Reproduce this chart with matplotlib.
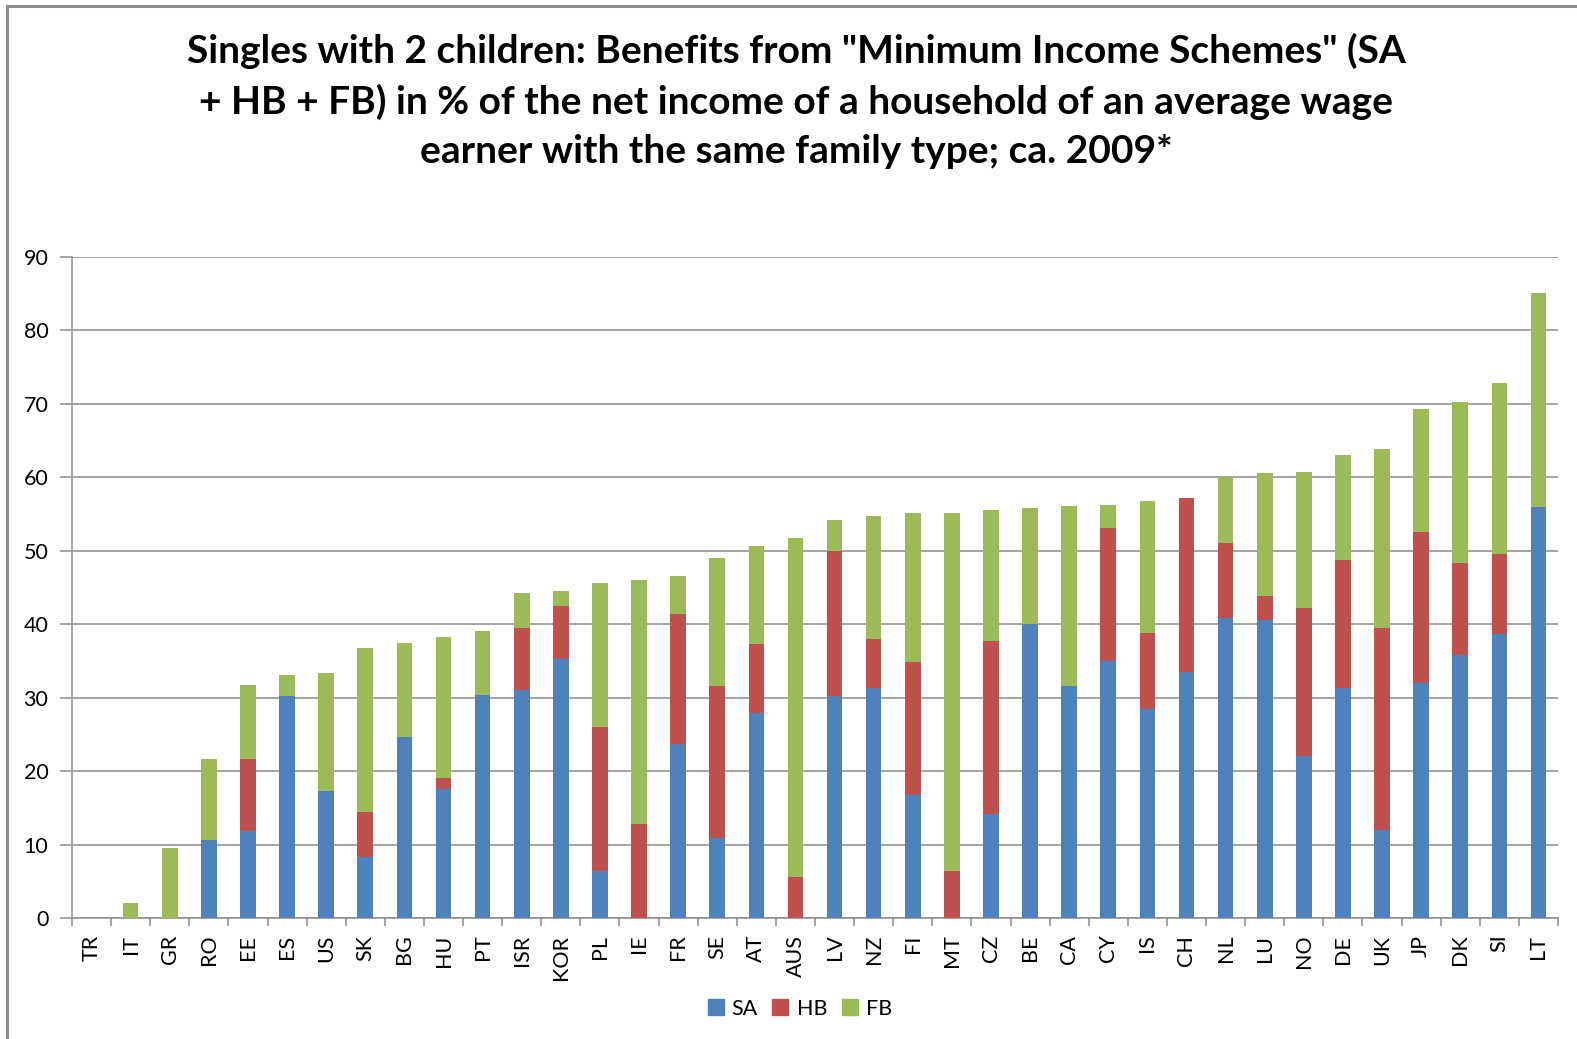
import matplotlib
matplotlib.use("Agg")
import matplotlib.pyplot as plt
from matplotlib.patches import Rectangle
from matplotlib.lines import Line2D
import numpy as np

countries = ["TR", "IT", "GR", "RO", "EE", "ES", "US", "SK", "BG", "HU", "PT", "ISR", "KOR",
             "PL", "IE", "FR", "SE", "AT", "AUS", "LV", "NZ", "FI", "MT", "CZ", "BE", "CA",
             "CY", "IS", "CH", "NL", "LU", "NO", "DE", "UK", "JP", "DK", "SI", "LT"]
sa = [0, 0, 0, 10.6, 11.9, 30.2, 17.3, 8.3, 24.7, 17.5, 30.4, 31.0, 35.2,
      6.4, 0, 23.7, 10.9, 27.9, 0, 30.2, 31.3, 16.7, 0, 14.2, 40.0, 31.6,
      35.0, 28.4, 33.5, 40.8, 40.6, 22.1, 31.3, 12.0, 32.0, 35.8, 38.7, 56.0]
hb = [0, 0, 0, 0, 9.7, 0, 0, 6.1, 0, 1.5, 0, 8.5, 7.3,
      19.6, 12.8, 17.7, 20.7, 9.4, 5.6, 19.8, 6.7, 18.1, 6.4, 23.5, 0, 0,
      18.1, 10.4, 23.7, 10.3, 3.3, 20.1, 17.5, 27.5, 20.6, 12.5, 10.8, 0]
fb = [0, 2.0, 9.5, 11.1, 10.15, 2.9, 16.1, 22.3, 12.8, 19.2, 8.7, 4.8, 2.0,
      19.6, 33.2, 5.2, 17.4, 13.4, 46.1, 4.2, 16.7, 20.4, 48.8, 17.9, 15.8, 24.5,
      3.2, 18.0, 0, 8.9, 16.7, 18.5, 14.3, 24.4, 16.7, 21.9, 23.3, 29.1]
series_names = ["SA", "HB", "FB"]
yticks = [0, 10, 20, 30, 40, 50, 60, 70, 80, 90]
title = ('Singles with 2 children: Benefits from "Minimum Income Schemes" (SA\n'
         '+ HB + FB) in % of the net income of a household of an average wage\n'
         'earner with the same family type; ca. 2009*')

colors = ["#4F81BD", "#C0504D", "#9BBB59"]
plt.rcParams['font.family'] = ['Lato', 'DejaVu Sans']

W, H = 1577, 1039
fig = plt.figure(figsize=(W / 100, H / 100), dpi=100)
fig.patch.set_facecolor("white")

left, right, top, bottom = 72, 1558, 257, 918
ax = fig.add_axes([left / W, 1 - bottom / H, (right - left) / W, (bottom - top) / H])

x = np.arange(len(countries))
sa_a = np.array(sa); hb_a = np.array(hb); fb_a = np.array(fb)
bw = 0.4
ax.bar(x, sa_a, bw, color=colors[0], label=series_names[0], zorder=3)
ax.bar(x, hb_a, bw, bottom=sa_a, color=colors[1], label=series_names[1], zorder=3)
ax.bar(x, fb_a, bw, bottom=sa_a + hb_a, color=colors[2], label=series_names[2], zorder=3)

ax.set_xlim(-0.5, len(countries) - 0.5)
ax.set_ylim(0, 90)
ax.set_yticks(yticks)
ax.set_yticklabels([str(v) for v in yticks], fontsize=15.5)
ax.yaxis.grid(True, color="#8C8C8C", linewidth=1.1, zorder=0)
ax.set_axisbelow(True)
ax.tick_params(axis="y", length=9, color="#8C8C8C", width=1.1, pad=8, labelcolor="black")

ax.set_xticks(x)
ax.set_xticklabels(countries, rotation=90, fontsize=15.5)
ax.set_xticks(np.arange(-0.5, len(countries) + 0.5, 1), minor=True)
ax.tick_params(axis="x", which="major", length=0, pad=12)
ax.tick_params(axis="x", which="minor", length=6, color="#8C8C8C", width=1.1)

for s in ["top", "right"]:
    ax.spines[s].set_visible(False)
for s in ["left", "bottom"]:
    ax.spines[s].set_color("#8C8C8C")
    ax.spines[s].set_linewidth(1.1)

fig.text(796 / W, 1 - 101 / H, title, ha="center", va="center", fontsize=28,
         fontweight="bold", linespacing=1.5)

handles = [Line2D([], [], marker="s", linestyle="none", markersize=11,
                  markerfacecolor=c, markeredgecolor=c) for c in colors]
fig.legend(handles, series_names, loc="center", bbox_to_anchor=(799 / W, 1 - 1009 / H),
           ncol=3, frameon=False, fontsize=15.5, handletextpad=0.3, columnspacing=0.6,
           handlelength=0.9)

border = Rectangle((7 / W, -0.05), 1.2, 1 - 6 / H + 0.05, transform=fig.transFigure,
                   fill=False, edgecolor="#8C8C8C", linewidth=2.2)
fig.patches.append(border)

fig.savefig("out.png", dpi=100)
